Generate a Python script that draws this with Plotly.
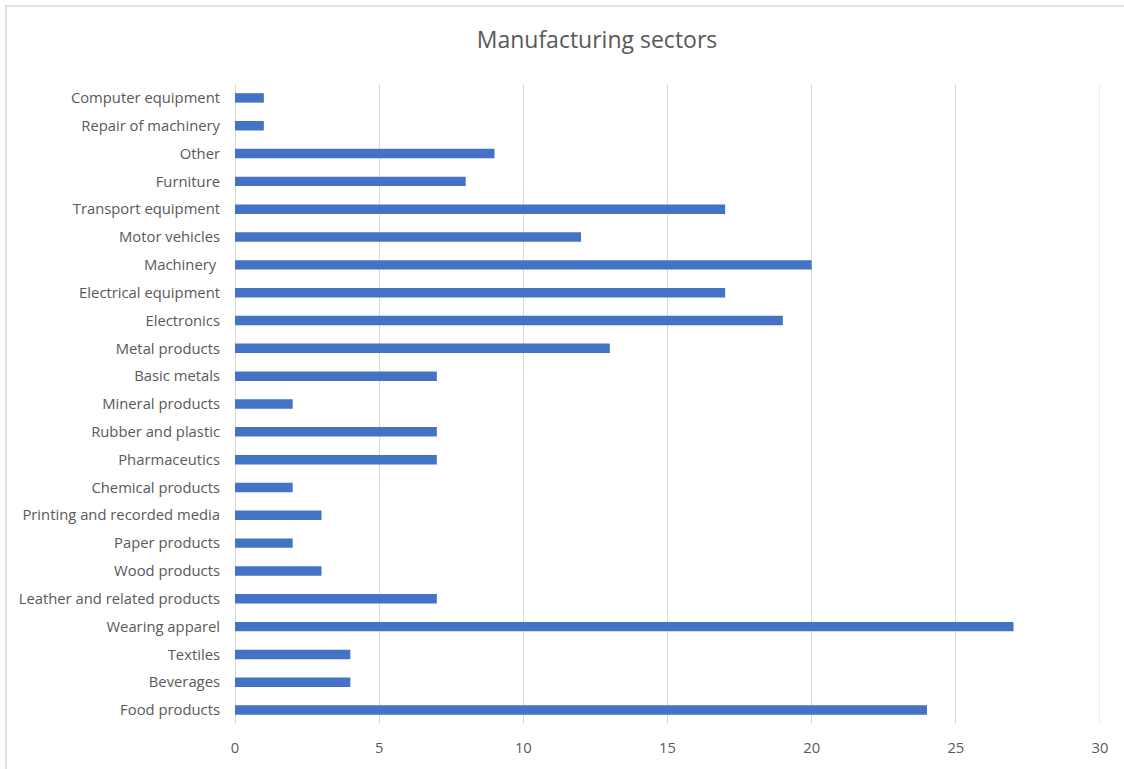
import plotly.graph_objects as go

# Sector names, listed bottom to top as drawn on the category axis
sectors = [
    "Food products", "Beverages", "Textiles", "Wearing apparel",
    "Leather and related products", "Wood products", "Paper products",
    "Printing and recorded media", "Chemical products", "Pharmaceutics",
    "Rubber and plastic", "Mineral products", "Basic metals",
    "Metal products", "Electronics", "Electrical equipment", "Machinery ",
    "Motor vehicles", "Transport equipment", "Furniture", "Other",
    "Repair of machinery", "Computer equipment",
]
counts = [24, 4, 4, 27, 7, 3, 2, 3, 2, 7, 7, 2, 7, 13, 19, 17, 20, 12, 17, 8, 9, 1, 1]

x_ticks = [0, 5, 10, 15, 20, 25, 30]

W, H = 1124, 769
ML, MR, MT, MB = 235, 24, 84, 45
pw, ph = W - ML - MR, H - MT - MB

grid = "#d9d9d9"
grey = "#595959"

fig = go.Figure(
    go.Bar(
        x=counts,
        y=sectors,
        orientation="h",
        marker=dict(color="#4472C4", line=dict(width=0)),
        hoverinfo="x+y",
    )
)

fig.update_layout(
    width=W,
    height=H,
    margin=dict(l=ML, r=MR, t=MT, b=MB),
    paper_bgcolor="white",
    plot_bgcolor="white",
    bargap=0.66,
    showlegend=False,
    font=dict(family="Open Sans", size=14.8, color=grey),
    title=dict(
        text="Manufacturing sectors",
        x=597 / W,
        xanchor="center",
        y=1 - 40 / H,
        yanchor="middle",
        font=dict(family="Open Sans", size=23, color=grey),
    ),
    xaxis=dict(
        range=[x_ticks[0], x_ticks[-1]],
        tickvals=x_ticks,
        showgrid=True,
        gridcolor=grid,
        gridwidth=1,
        zeroline=True,
        zerolinecolor=grid,
        zerolinewidth=1,
        showline=False,
        ticks="",
        ticklabelstandoff=13,
        fixedrange=True,
    ),
    yaxis=dict(
        categoryorder="array",
        categoryarray=sectors,
        range=[-0.5, len(sectors) - 0.5],
        showgrid=False,
        zeroline=False,
        showline=False,
        ticks="",
        ticklabelstandoff=14,
        fixedrange=True,
    ),
    shapes=[
        # thin frame around the chart area
        dict(
            type="rect",
            xref="paper",
            yref="paper",
            x0=(6 - ML) / pw,
            x1=(W + 20 - ML) / pw,
            y0=-(40 + MB) / ph,
            y1=(MT - 6 + ph) / ph,
            line=dict(color=grid, width=1.5),
            fillcolor="rgba(0,0,0,0)",
            layer="below",
        ),
        # gridline at the far edge of the value axis
        dict(
            type="line",
            xref="x",
            yref="paper",
            x0=x_ticks[-1],
            x1=x_ticks[-1],
            y0=0,
            y1=1,
            line=dict(color=grid, width=1),
            layer="below",
        ),
    ],
)

fig.write_html("out.html")
